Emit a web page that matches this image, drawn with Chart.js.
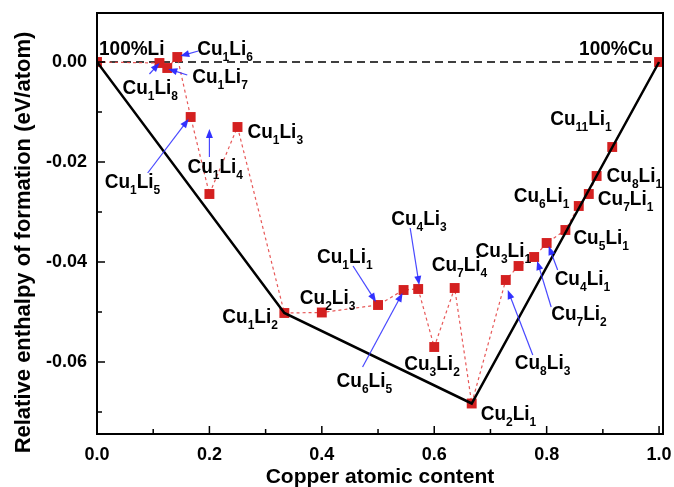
<!DOCTYPE html>
<html><head><meta charset="utf-8">
<script src="https://cdn.jsdelivr.net/npm/chart.js@4.4.1/dist/chart.umd.min.js"></script>
<style>html,body{margin:0;padding:0;background:#fff;}#wrap{width:674px;height:487px;}</style>
</head><body><div id="wrap"><canvas id="c" width="674" height="487"></canvas></div>
<script>
// ---- data ----
const compounds = ['100%Li','Cu1Li8','Cu1Li7','Cu1Li6','Cu1Li5','Cu1Li4','Cu1Li3','Cu1Li2','Cu2Li3','Cu1Li1','Cu6Li5','Cu4Li3','Cu3Li2','Cu7Li4','Cu2Li1','Cu8Li3','Cu3Li1','Cu7Li2','Cu4Li1','Cu5Li1','Cu6Li1','Cu7Li1','Cu8Li1','Cu11Li1','100%Cu'];
const copperContent = [0, 1/9, 1/8, 1/7, 1/6, 1/5, 1/4, 1/3, 2/5, 1/2, 6/11, 4/7, 3/5, 7/11, 2/3, 8/11, 3/4, 7/9, 4/5, 5/6, 6/7, 7/8, 8/9, 11/12, 1];
const enthalpy = [0, -0.0002, -0.0012, 0.0010, -0.0110, -0.0264, -0.0130, -0.0502, -0.0501, -0.0486, -0.0456, -0.0454, -0.0570, -0.0452, -0.0683, -0.0436, -0.0408, -0.0390, -0.0362, -0.0336, -0.0288, -0.0264, -0.0228, -0.0170, 0];
const hullX = [0, 1/3, 2/3, 1];
const hullY = [0, -0.0502, -0.0683, 0];
const xTicks = [0, 0.2, 0.4, 0.6, 0.8, 1.0];
const xMinorTicks = [0.1, 0.3, 0.5, 0.7, 0.9];
const yTicks = [0, -0.02, -0.04, -0.06];
const yMinorTicks = [-0.01, -0.03, -0.05, -0.07];

// ---- label layout (pixel offsets from marker): [label dx, dy, arrow start dx, dy, arrow end dx, dy] ----
const labelLayout = {
  '100%Li': [2,-14], 'Cu1Li8': [-37,24,-10,11,0,0], 'Cu1Li7': [25,8,20,7,1,1], 'Cu1Li6': [20,-9,21,-6,3,-1],
  'Cu1Li5': [-86,64,-43,56,-2,2], 'Cu1Li4': [-22,-28,0,-37,0,-65], 'Cu1Li3': [10,4], 'Cu1Li2': [-62,3],
  'Cu2Li3': [-22,-16], 'Cu1Li1': [-61,-49,-25,-39,-2,-3], 'Cu6Li5': [-67,90,-41,77,-1,3], 'Cu4Li3': [-27,-71,-8,-61,1,-4],
  'Cu3Li2': [-30,16], 'Cu7Li4': [-23,-24], 'Cu2Li1': [9,9], 'Cu8Li3': [9,82,27,75,2,10], 'Cu3Li1': [-43,-16],
  'Cu7Li2': [17,56,17,50,3,4], 'Cu4Li1': [8,35,11,27,2,3], 'Cu5Li1': [8,7], 'Cu6Li1': [-65,-11], 'Cu7Li1': [9,4],
  'Cu8Li1': [10,-1], 'Cu11Li1': [-62,-29], '100%Cu': [-80,-14]
};

const FAM = '"Liberation Sans", Arial, Helvetica, sans-serif';

function drawFormula(ctx, text, x, cy) {
  const parts = text.startsWith('100%') ? [[text, '']] : [...text.matchAll(/([A-Z][a-z]?)(\d+)/g)].map(m => [m[1], m[2]]);
  ctx.save();
  ctx.translate(x, cy);
  ctx.scale(1, 1.1);
  const base = 6.5;
  let cx = 0;
  ctx.fillStyle = '#000';
  ctx.textAlign = 'left';
  ctx.textBaseline = 'alphabetic';
  for (const [el, n] of parts) {
    ctx.font = 'bold 19px ' + FAM;
    ctx.fillText(el, cx, base);
    cx += ctx.measureText(el).width;
    if (n) {
      ctx.font = 'bold 12px ' + FAM;
      ctx.fillText(n, cx, base + 5.5);
      cx += ctx.measureText(n).width;
    }
  }
  ctx.restore();
}

function drawArrow(ctx, x1, y1, x2, y2) {
  const ang = Math.atan2(y2 - y1, x2 - x1);
  const L = 9, W = 3.5;
  ctx.strokeStyle = 'rgba(40,40,255,0.85)';
  ctx.fillStyle = 'rgba(40,40,255,0.95)';
  ctx.lineWidth = 1.2;
  ctx.beginPath();
  ctx.moveTo(x1, y1);
  ctx.lineTo(x2 - Math.cos(ang) * L * 0.8, y2 - Math.sin(ang) * L * 0.8);
  ctx.stroke();
  ctx.beginPath();
  ctx.moveTo(x2, y2);
  ctx.lineTo(x2 - Math.cos(ang) * L - Math.sin(ang) * W, y2 - Math.sin(ang) * L + Math.cos(ang) * W);
  ctx.lineTo(x2 - Math.cos(ang) * L + Math.sin(ang) * W, y2 - Math.sin(ang) * L - Math.cos(ang) * W);
  ctx.closePath();
  ctx.fill();
}

const overlay = {
  id: 'overlay',
  afterDraw(chart) {
    const {ctx, chartArea: a, scales: {x, y}} = chart;
    ctx.save();
    // frame
    ctx.strokeStyle = '#000';
    ctx.lineWidth = 2;
    ctx.setLineDash([]);
    ctx.strokeRect(a.left, a.top, a.right - a.left, a.bottom - a.top);
    // inward ticks
    ctx.lineWidth = 1.5;
    ctx.beginPath();
    xTicks.forEach(v => { const px = x.getPixelForValue(v); ctx.moveTo(px, a.bottom); ctx.lineTo(px, a.bottom - 8); });
    xMinorTicks.forEach(v => { const px = x.getPixelForValue(v); ctx.moveTo(px, a.bottom); ctx.lineTo(px, a.bottom - 5); });
    yTicks.forEach(v => { const py = y.getPixelForValue(v); ctx.moveTo(a.left, py); ctx.lineTo(a.left + 8, py); });
    yMinorTicks.forEach(v => { const py = y.getPixelForValue(v); ctx.moveTo(a.left, py); ctx.lineTo(a.left + 5, py); });
    ctx.stroke();
    // labels and arrows
    compounds.forEach((name, i) => {
      const lay = labelLayout[name];
      if (!lay) return;
      const mx = x.getPixelForValue(copperContent[i]);
      const my = y.getPixelForValue(enthalpy[i]);
      if (lay.length > 2) drawArrow(ctx, mx + lay[2], my + lay[3], mx + lay[4], my + lay[5]);
      drawFormula(ctx, name, mx + lay[0], my + lay[1]);
    });
    // axis titles
    ctx.fillStyle = '#000';
    ctx.textAlign = 'center';
    ctx.textBaseline = 'middle';
    ctx.font = 'bold 21px ' + FAM;
    ctx.fillText('Copper atomic content', (a.left + a.right) / 2, a.bottom + 43);
    ctx.save();
    ctx.translate(24, (a.top + a.bottom) / 2 + 19);
    ctx.rotate(-Math.PI / 2);
    ctx.font = 'bold 22px ' + FAM;
    ctx.fillText('Relative enthalpy of formation (eV/atom)', 0, 0);
    ctx.restore();
    ctx.restore();
  }
};

function noPad(s) { s.paddingTop = 0; s.paddingBottom = 0; s.paddingLeft = 0; s.paddingRight = 0; }

const pts = copperContent.map((v, i) => ({x: v, y: enthalpy[i]}));

new Chart(document.getElementById('c'), {
  type: 'scatter',
  data: {
    datasets: [
      {label: 'hull', data: hullX.map((v, i) => ({x: v, y: hullY[i]})), showLine: true, borderColor: '#000', borderWidth: 2.5, pointRadius: 0, fill: false, tension: 0},
      {label: 'calc', data: pts, showLine: true, borderColor: 'rgba(228,70,70,0.9)', borderWidth: 1.2, borderDash: [3, 3], pointStyle: 'rect', pointRadius: 7, pointBackgroundColor: '#d42020', pointBorderColor: '#d42020', pointBorderWidth: 0, fill: false, tension: 0},
      {label: 'zero', data: [{x: 0, y: 0}, {x: 1, y: 0}], showLine: true, borderColor: '#000', borderWidth: 1.4, borderDash: [8, 5], pointRadius: 0, fill: false}
    ]
  },
  options: {
    responsive: false, animation: false, devicePixelRatio: 1,
    layout: {padding: {top: 13, right: 11, left: 0, bottom: 0}},
    plugins: {legend: {display: false}, tooltip: {enabled: false}},
    scales: {
      x: {
        type: 'linear', min: 0, max: 1.007,
        grid: {display: false, drawTicks: false}, border: {display: false},
        afterBuildTicks: s => { s.ticks = xTicks.map(v => ({value: v})); },
        afterFit: s => { s.height = 53; noPad(s); },
        ticks: {callback: v => Number(v).toFixed(1), font: {family: FAM, size: 18, weight: 'bold'}, color: '#000', padding: 10, maxRotation: 0, autoSkip: false}
      },
      y: {
        type: 'linear', min: -0.0744, max: 0.0098,
        grid: {display: false, drawTicks: false}, border: {display: false},
        afterBuildTicks: s => { s.ticks = yTicks.map(v => ({value: v})); },
        afterFit: s => { s.width = 97; noPad(s); },
        ticks: {callback: v => Number(v).toFixed(2), font: {family: FAM, size: 18, weight: 'bold'}, color: '#000', padding: 10, autoSkip: false}
      }
    }
  },
  plugins: [overlay]
});
</script></body></html>
